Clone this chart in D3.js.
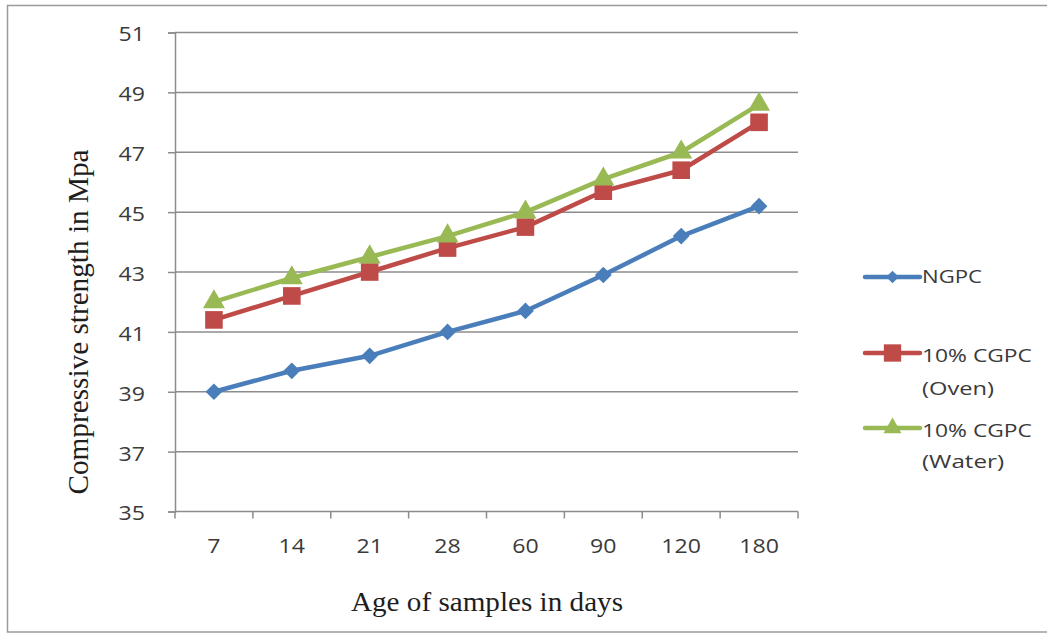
<!DOCTYPE html>
<html>
<head>
<meta charset="utf-8">
<script src="https://cdn.jsdelivr.net/npm/d3@7"></script>
<style>
  html, body { margin: 0; padding: 0; background: #fff; }
  svg { display: block; }
</style>
</head>
<body>
<svg id="chart" width="1047" height="633"></svg>
<script>
// Compressive strength by curing age
const ages = ["7", "14", "21", "28", "60", "90", "120", "180"];
const ngpc = [39.0, 39.7, 40.2, 41.0, 41.7, 42.9, 44.2, 45.2];
const cgpcOven = [41.4, 42.2, 43.0, 43.8, 44.5, 45.7, 46.4, 48.0];
const cgpcWater = [42.0, 42.8, 43.5, 44.2, 45.0, 46.1, 47.0, 48.6];
const yTicks = [35, 37, 39, 41, 43, 45, 47, 49, 51];

const series = [
  { name: ["NGPC"], values: ngpc, color: "#4a7ebb", marker: "diamond" },
  { name: ["10% CGPC", "(Oven)"], values: cgpcOven, color: "#be4b48", marker: "square" },
  { name: ["10% CGPC", "(Water)"], values: cgpcWater, color: "#98b954", marker: "triangle" }
];

const svg = d3.select("#chart");
const plot = { left: 175, right: 798, top: 32.5, bottom: 511.5 };
const gridColor = "#8c8c8c";
const labelFont = "'Open Sans', 'Liberation Sans', sans-serif";
const titleFont = "'Liberation Serif', 'DejaVu Serif', serif";
const labelColor = "#3a3a3a";
const digitWidth = 13.2;

// outer frame
svg.append("path")
  .attr("d", "M1047,5.5 H7.5 V632 H1047")
  .attr("fill", "none").attr("stroke", "#9a9a9a").attr("stroke-width", 1.5);

const x = d3.scaleBand().domain(ages).range([plot.left, plot.right]);
const y = d3.scaleLinear().domain([35, 51]).range([plot.bottom, plot.top]);

// horizontal gridlines
svg.append("g").selectAll("line").data(yTicks.slice(1)).join("line")
  .attr("x1", plot.left).attr("x2", plot.right)
  .attr("y1", d => y(d)).attr("y2", d => y(d))
  .attr("stroke", gridColor).attr("stroke-width", 1.5);

// y axis
const yAxis = svg.append("g")
  .attr("transform", `translate(${plot.left},0)`)
  .call(d3.axisLeft(y).tickValues(yTicks).tickSize(7).tickPadding(23).tickFormat(d3.format("d")));
yAxis.select(".domain").attr("stroke", gridColor).attr("stroke-width", 1.5);
yAxis.selectAll(".tick line").attr("stroke", gridColor).attr("stroke-width", 1.5);
yAxis.selectAll(".tick text")
  .attr("font-family", labelFont).attr("font-size", 20).attr("fill", labelColor)
  .attr("dy", "0.42em")
  .attr("textLength", d => String(d).length * digitWidth)
  .attr("lengthAdjust", "spacingAndGlyphs");

// x axis with ticks at category boundaries
const xAxis = svg.append("g").attr("transform", `translate(0,${plot.bottom})`);
xAxis.append("line")
  .attr("x1", plot.left).attr("x2", plot.right)
  .attr("stroke", gridColor).attr("stroke-width", 1.5);
const bounds = ages.map(a => x(a)).concat([x(ages[ages.length - 1]) + x.bandwidth()]);
xAxis.selectAll("line.tk").data(bounds).join("line").attr("class", "tk")
  .attr("x1", d => d).attr("x2", d => d).attr("y1", 0).attr("y2", 7)
  .attr("stroke", gridColor).attr("stroke-width", 1.5);
xAxis.selectAll("text").data(ages).join("text")
  .attr("x", d => x(d) + x.bandwidth() / 2).attr("y", 41.5)
  .attr("text-anchor", "middle")
  .attr("font-family", labelFont).attr("font-size", 20).attr("fill", labelColor)
  .attr("textLength", d => d.length * digitWidth)
  .attr("lengthAdjust", "spacingAndGlyphs")
  .text(d => d);

// axis titles
svg.append("text")
  .attr("transform", "translate(88,322) rotate(-90)")
  .attr("text-anchor", "middle")
  .attr("font-family", titleFont).attr("font-size", 30).attr("fill", "#1e1e1e")
  .attr("textLength", 345).attr("lengthAdjust", "spacingAndGlyphs")
  .text("Compressive strength in Mpa");
svg.append("text")
  .attr("x", 487).attr("y", 611)
  .attr("text-anchor", "middle")
  .attr("font-family", titleFont).attr("font-size", 28).attr("fill", "#1e1e1e")
  .attr("textLength", 272).attr("lengthAdjust", "spacingAndGlyphs")
  .text("Age of samples in days");

const rotFor = { diamond: 45, square: 0, triangle: 0 };
const symbolFor = {
  diamond: d3.symbol().type(d3.symbolSquare).size(140),
  square: d3.symbol().type(d3.symbolSquare).size(310),
  triangle: d3.symbol().type(d3.symbolTriangle).size(210)
};

const cx = d => x(d) + x.bandwidth() / 2;
const line = d3.line().x((v, i) => cx(ages[i])).y(v => y(v));

series.forEach(s => {
  svg.append("path")
    .attr("d", line(s.values))
    .attr("fill", "none").attr("stroke", s.color)
    .attr("stroke-width", 4.5).attr("stroke-linejoin", "round");
  svg.append("g").selectAll("path").data(s.values).join("path")
    .attr("d", symbolFor[s.marker]())
    .attr("transform", (v, i) => `translate(${cx(ages[i])},${y(v)}) rotate(${rotFor[s.marker]})`)
    .attr("fill", s.color);
});

// legend
const legendY = [277, 353, 428];
const legendBaseline = [[6], [9, 42], [9, 40]];
const legendWidths = [[60], [110, 72], [110, 82]];
series.forEach((s, i) => {
  const g = svg.append("g").attr("transform", `translate(865,${legendY[i]})`);
  g.append("line").attr("x1", 0).attr("x2", 55)
    .attr("stroke", s.color).attr("stroke-width", 4.5).attr("stroke-linecap", "round");
  const m = s.marker === "diamond" ? d3.symbol().type(d3.symbolSquare).size(80)
          : s.marker === "square" ? d3.symbol().type(d3.symbolSquare).size(300)
          : d3.symbol().type(d3.symbolTriangle).size(140);
  g.append("path").attr("d", m())
    .attr("transform", `translate(27.5,0) rotate(${rotFor[s.marker]})`)
    .attr("fill", s.color);
  s.name.forEach((t, j) => {
    g.append("text")
      .attr("x", 57).attr("y", legendBaseline[i][j])
      .attr("font-family", labelFont).attr("font-size", 19).attr("fill", labelColor)
      .attr("textLength", legendWidths[i][j]).attr("lengthAdjust", "spacingAndGlyphs")
      .text(t);
  });
});
</script>
</body>
</html>
